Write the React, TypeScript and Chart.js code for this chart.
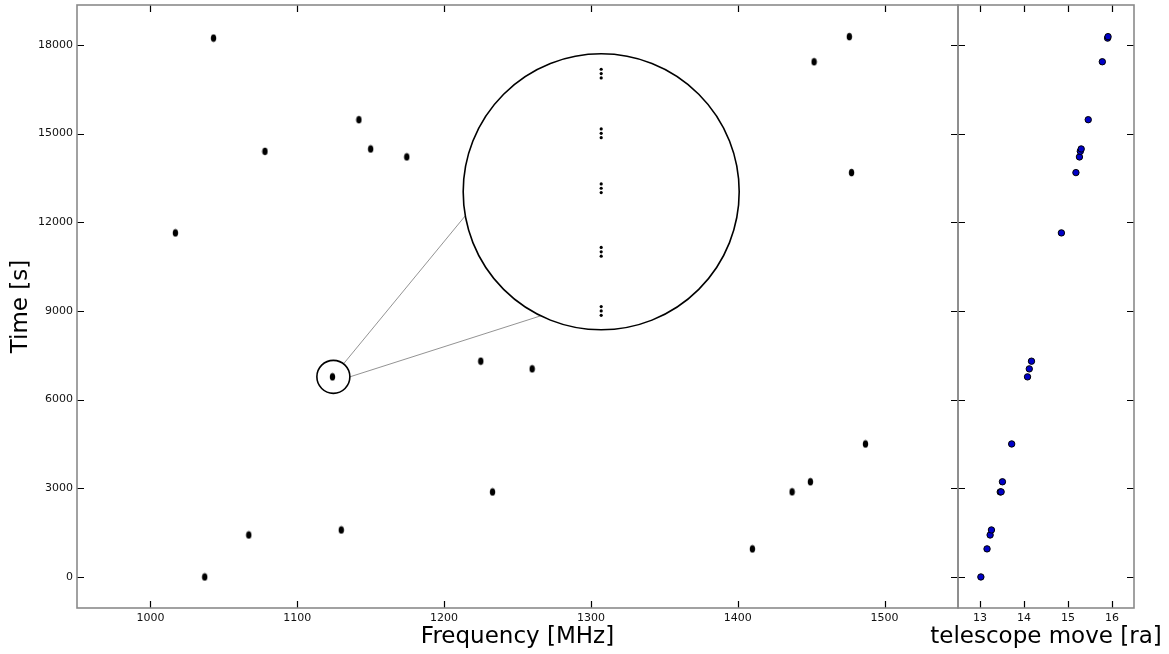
import React, { useEffect, useRef } from 'react';
import { Chart, registerables } from 'chart.js';

Chart.register(...registerables);

// Observations (sorted by time)
const freqMHz = [1037, 1410, 1067, 1130, 1233, 1437, 1449.5, 1487, 1124, 1260, 1225, 1017, 1477.5, 1174.6, 1078, 1150, 1142, 1452, 1043, 1476];
const timeS = [0, 950, 1420, 1590, 2876, 2880, 3220, 4500, 6770, 7040, 7300, 11640, 13680, 14210, 14400, 14480, 15470, 17430, 18230, 18280];
const raMove = [13.02, 13.16, 13.23, 13.26, 13.46, 13.48, 13.51, 13.72, 14.08, 14.12, 14.17, 14.85, 15.18, 15.26, 15.28, 15.3, 15.46, 15.78, 15.9, 15.91];

// Magnified inset content
const insetFreq = [1307, 1307, 1307, 1307, 1307, 1307, 1307, 1307, 1307, 1307, 1307, 1307, 1307, 1307, 1307];
const insetTime = [8853, 9000, 9147, 10853, 11000, 11147, 13003, 13150, 13297, 14863, 15010, 15157, 16883, 17030, 17177];
const focusPoint = { freq: 1124.6, time: 6770 };
const insetCenter = { freq: 1307, time: 13030 };

// Ticks
const freqTicks = [1000, 1100, 1200, 1300, 1400, 1500];
const timeTicks = [0, 3000, 6000, 9000, 12000, 15000, 18000];
const raTicks = [13, 14, 15, 16];

const FONT = 'DejaVu Sans';
const CANVAS_H = 654;
const AREA_TOP = 5;
const X_AXIS_H = 46;
const TITLE_SIZE = 23;
const TITLE_PAD = 3;

function framePlugin(xTicks: number[], yTicks: number[]) {
  return {
    id: 'frameTicks',
    afterDraw(chart: any) {
      const { ctx, chartArea } = chart;
      const { left, right, top, bottom } = chartArea;
      const xs = chart.scales.x;
      const ys = chart.scales.y;
      const L = 7;
      ctx.save();
      ctx.strokeStyle = '#000';
      ctx.lineWidth = 1.2;
      ctx.beginPath();
      xTicks.forEach((v) => {
        const px = Math.round(xs.getPixelForValue(v)) + 0.5;
        ctx.moveTo(px, bottom);
        ctx.lineTo(px, bottom - L);
        ctx.moveTo(px, top);
        ctx.lineTo(px, top + L);
      });
      yTicks.forEach((v) => {
        const py = Math.round(ys.getPixelForValue(v)) + 0.5;
        ctx.moveTo(left, py);
        ctx.lineTo(left + L, py);
        ctx.moveTo(right, py);
        ctx.lineTo(right - L, py);
      });
      ctx.stroke();
      ctx.strokeStyle = '#8a8a8a';
      ctx.lineWidth = 1.6;
      ctx.strokeRect(left, top, right - left, bottom - top);
      ctx.restore();
    },
  };
}

const insetPlugin = {
  id: 'inset',
  afterDatasetsDraw(chart: any) {
    const { ctx } = chart;
    const xs = chart.scales.x;
    const ys = chart.scales.y;
    const fx = xs.getPixelForValue(focusPoint.freq);
    const fy = ys.getPixelForValue(focusPoint.time);
    const bx = xs.getPixelForValue(insetCenter.freq);
    const by = ys.getPixelForValue(insetCenter.time);
    const rs = 16.5;
    const rb = 138;
    const rad = (d: number) => (d * Math.PI) / 180;
    ctx.save();
    ctx.strokeStyle = '#777';
    ctx.lineWidth = 0.8;
    ctx.beginPath();
    ctx.moveTo(fx + rs * Math.cos(rad(-52)), fy + rs * Math.sin(rad(-52)));
    ctx.lineTo(bx + rb * Math.cos(rad(170)), by + rb * Math.sin(rad(170)));
    ctx.moveTo(fx + rs * Math.cos(0), fy + rs * Math.sin(0));
    ctx.lineTo(bx + rb * Math.cos(rad(116)), by + rb * Math.sin(rad(116)));
    ctx.stroke();
    ctx.strokeStyle = '#000';
    ctx.lineWidth = 1.6;
    ctx.beginPath();
    ctx.arc(fx, fy, rs, 0, Math.PI * 2);
    ctx.stroke();
    ctx.beginPath();
    ctx.arc(bx, by, rb, 0, Math.PI * 2);
    ctx.stroke();
    ctx.restore();
  },
};

const raTitlePlugin = {
  id: 'raTitle',
  afterDraw(chart: any) {
    const { ctx, chartArea } = chart;
    ctx.save();
    ctx.font = `${TITLE_SIZE}px "${FONT}"`;
    ctx.fillStyle = '#000';
    ctx.textAlign = 'center';
    ctx.textBaseline = 'middle';
    ctx.fillText('telescope move [ra]', (chartArea.left + chartArea.right) / 2, CANVAS_H - (TITLE_SIZE * 1.2) / 2 - TITLE_PAD);
    ctx.restore();
  },
};

function makeEllipse(): HTMLCanvasElement {
  const c = document.createElement('canvas');
  c.width = 7;
  c.height = 9;
  const g = c.getContext('2d')!;
  g.fillStyle = '#000';
  g.beginPath();
  g.ellipse(3.5, 4.5, 2.7, 3.8, 0, 0, Math.PI * 2);
  g.fill();
  return c;
}

const tickFont = { family: FONT, size: 11 };
const titleFont = { family: FONT, size: TITLE_SIZE };
const plain = (v: any) => String(v);

function fitX(s: any) {
  s.height = X_AXIS_H;
  s.paddingLeft = 0;
  s.paddingRight = 0;
}

export default function App() {
  const mainRef = useRef<HTMLCanvasElement>(null);
  const raRef = useRef<HTMLCanvasElement>(null);

  useEffect(() => {
    const ellipse = makeEllipse();
    const main = new Chart(mainRef.current!, {
      type: 'scatter',
      data: {
        datasets: [
          {
            data: freqMHz.map((f, i) => ({ x: f, y: timeS[i] })),
            pointStyle: ellipse as any,
            pointRadius: 4,
            backgroundColor: '#000',
            borderColor: '#000',
          },
          {
            data: insetFreq.map((f, i) => ({ x: f, y: insetTime[i] })),
            pointRadius: 1.6,
            borderWidth: 0,
            backgroundColor: '#000',
          },
        ],
      },
      options: {
        responsive: false,
        animation: false,
        events: [],
        layout: { padding: { left: 0, top: AREA_TOP, right: 7, bottom: 0 } },
        plugins: { legend: { display: false }, tooltip: { enabled: false } },
        scales: {
          x: {
            type: 'linear',
            min: 950,
            max: 1550,
            afterBuildTicks: (s: any) => {
              s.ticks = freqTicks.map((v) => ({ value: v }));
            },
            afterFit: fitX,
            grid: { display: false, drawTicks: false },
            border: { display: false },
            ticks: { font: tickFont, color: '#111', padding: 4, maxRotation: 0, autoSkip: false, callback: plain },
            title: { display: true, text: 'Frequency [MHz]', font: titleFont, color: '#000', padding: { top: 0, bottom: TITLE_PAD } },
          },
          y: {
            type: 'linear',
            min: -1050,
            max: 19350,
            afterBuildTicks: (s: any) => {
              s.ticks = timeTicks.map((v) => ({ value: v }));
            },
            afterFit: (s: any) => {
              s.width = 77;
              s.paddingTop = 0;
              s.paddingBottom = 0;
            },
            grid: { display: false, drawTicks: false },
            border: { display: false },
            ticks: { font: tickFont, color: '#111', padding: 4, autoSkip: false, callback: plain },
            title: { display: true, text: 'Time [s]', font: titleFont, color: '#000', padding: { top: 7, bottom: 0 } },
          },
        },
      },
      plugins: [framePlugin(freqTicks, timeTicks), insetPlugin],
    });

    const ra = new Chart(raRef.current!, {
      type: 'scatter',
      data: {
        datasets: [
          {
            data: raMove.map((r, i) => ({ x: r, y: timeS[i] })),
            pointRadius: 3.2,
            borderWidth: 1,
            borderColor: '#000',
            backgroundColor: '#0000c8',
          },
        ],
      },
      options: {
        responsive: false,
        animation: false,
        events: [],
        layout: { padding: { left: 58, top: AREA_TOP, right: 35, bottom: 0 } },
        plugins: { legend: { display: false }, tooltip: { enabled: false } },
        scales: {
          x: {
            type: 'linear',
            min: 12.5,
            max: 16.5,
            afterBuildTicks: (s: any) => {
              s.ticks = raTicks.map((v) => ({ value: v }));
            },
            afterFit: fitX,
            grid: { display: false, drawTicks: false },
            border: { display: false },
            ticks: { font: tickFont, color: '#111', padding: 4, maxRotation: 0, autoSkip: false, callback: plain },
          },
          y: {
            type: 'linear',
            min: -1050,
            max: 19350,
            afterFit: (s: any) => {
              s.width = 0;
              s.paddingTop = 0;
              s.paddingBottom = 0;
            },
            grid: { display: false, drawTicks: false },
            border: { display: false },
            ticks: { display: false },
          },
        },
      },
      plugins: [framePlugin(raTicks, timeTicks), raTitlePlugin],
    });

    return () => {
      main.destroy();
      ra.destroy();
    };
  }, []);

  return (
    <div style={{ position: 'absolute', left: 0, top: 0, width: 1169, height: CANVAS_H, background: '#fff', overflow: 'hidden' }}>
      <canvas ref={mainRef} width={965} height={CANVAS_H} style={{ position: 'absolute', left: 0, top: 0, width: 965, height: CANVAS_H }} />
      <canvas ref={raRef} width={269} height={CANVAS_H} style={{ position: 'absolute', left: 900, top: 0, width: 269, height: CANVAS_H }} />
    </div>
  );
}
